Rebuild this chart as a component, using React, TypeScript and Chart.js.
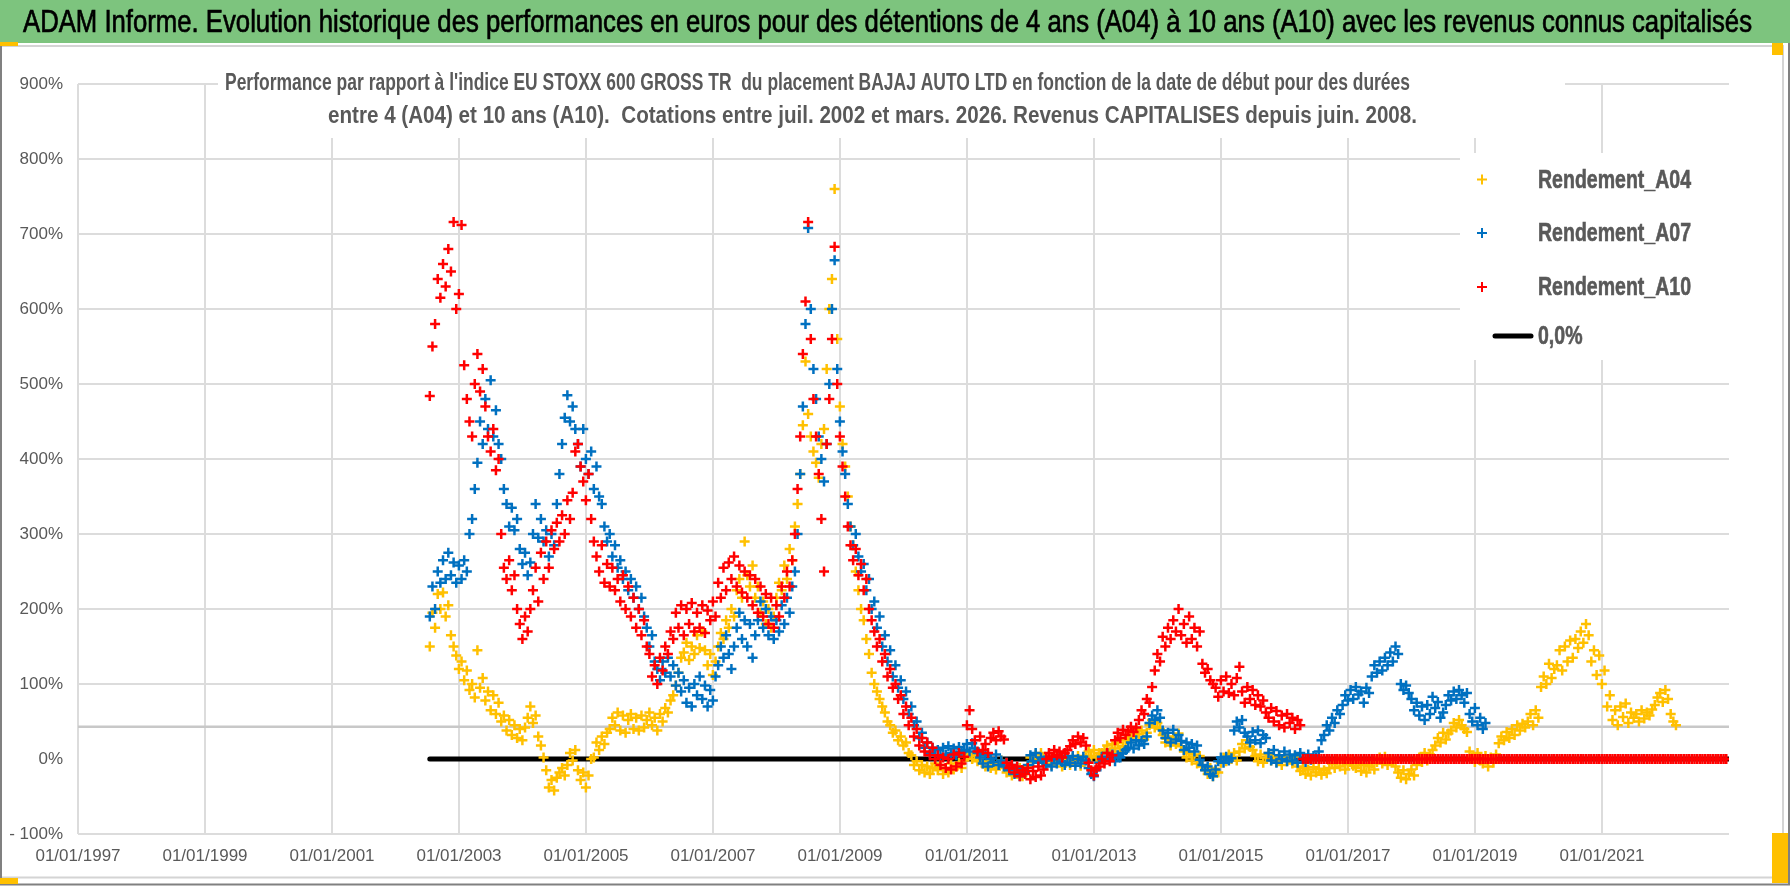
import { useEffect, useRef } from "react"
import { Chart, registerables } from "chart.js"

Chart.register(...registerables)

// start dates: one value every half month, from july 2002
const startYear = 2002.54
const stepYears = 1 / 24

const seriesNames = ["Rendement_A04", "Rendement_A07", "Rendement_A10", "0,0%"]

// Rendement_A04 (%), one row = one year of start dates
const a04 = [
  150, 195, 175, 220, 200, 222, 190, 205, 165, 150, 138, 120, 130, 105, 118, 92, 100, 82, 145, 95, 108, 78, 90, 65,
  85, 60, 75, 50, 58, 38, 52, 32, 45, 28, 40, 25, 42, 55, 70, 48, 58, 30, 18, 2, -15, -38, -28, -42,
  -25, -18, -12, -22, -8, 8, -2, 12, -15, -28, -18, -38, -22, 0, 2, 22, 12, 30, 20, 35, 40, 55, 45, 62,
  38, 58, 35, 52, 60, 40, 55, 38, 58, 42, 52, 62, 45, 55, 38, 60, 50, 68, 62, 78, 85, 98, 115, 135,
  142, 155, 132, 150, 140, 165, 148, 170, 145, 125, 140, 112, 130, 150, 168, 160, 185, 175, 200, 190, 225, 240, 215, 290,
  245, 230, 258, 215, 230, 195, 210, 180, 200, 175, 190, 215, 235, 225, 258, 240, 280, 265, 310, 340, 380, 445, 530, 460,
  430, 410, 395, 375, 420, 440, 520, 600, 640, 760, 560, 470, 420, 390, 350, 310, 285, 250, 225, 200, 185, 160, 140, 115,
  100, 90, 80, 70, 62, 50, 45, 35, 38, 25, 30, 18, 22, 8, 5, -8, -3, -15, -8, -18, -10, -20, -12, -6,
  -15, -8, -20, -12, -18, -6, -14, -10, -5, -12, -2, 5, 8, 0, 4, -3, 2, -6, -10, -3, -12, -5, -14, -8,
  -2, -12, -18, -10, -22, -14, -20, -12, -23, -16, -10, 2, -4, 6, -2, 8, 0, -6, 3, -8, 2, -4, 4, -10,
  -3, 3, -8, 1, -5, 4, -9, 0, 2, 10, 4, 12, 2, 8, 8, 12, 18, 9, 20, 14, 21, 10, 17, 25,
  28, 36, 30, 40, 33, 38, 26, 35, 45, 52, 42, 48, 40, 32, 22, 30, 18, 28, 20, 34, 17, 10, 2, 8,
  -2, 6, -6, 4, -10, -14, -20, -12, -23, -16, -18, -5, 2, -3, 6, 0, 8, -2, 10, 20, 14, 25, 16, 12,
  4, -3, 6, -5, 2, 8, -2, 5, -4, 2, -8, 4, -3, 0, -6, 3, -10, -16, -12, -20, -14, -22, -11, -18,
  -13, -21, -15, -19, -12, -6, -12, -2, -10, -4, -14, -7, -1, -9, -12, -5, -16, -8, -18, -10, -6, -14, -4, 2,
  -6, 3, -8, 0, -4, -10, -18, -25, -15, -27, -20, -14, -22, -8, 2, -4, 8, -2, 6, 12, 18, 28, 22, 35,
  26, 34, 38, 48, 42, 52, 45, 40, 36, 10, 2, -4, 8, -2, -6, 4, -10, 2, -5, 6, 21, 30, 25, 36,
  28, 40, 32, 45, 38, 47, 42, 50, 60, 45, 65, 55, 96, 110, 100, 127, 108, 120, 125, 145, 118, 150, 130, 158,
  135, 160, 148, 170, 155, 180, 165, 130, 145, 112, 138, 100, 118, 70, 85, 52, 65, 45, 70, 56, 74, 48, 62, 55,
  60, 50, 65, 54, 62, 58, 66, 72, 82, 88, 76, 92, 80, 60, 50, 45,
]

// Rendement_A07 (%)
const a07 = [
  190, 230, 200, 250, 235, 265, 240, 275, 245, 262, 235, 258, 240, 265, 250, 300, 320, 360, 395, 450, 420, 480, 440, 505,
  430, 465, 420, 400, 360, 340, 310, 335, 305, 320, 280, 260, 275, 245, 262, 300, 340, 295, 320, 290, 305, 270, 300, 285,
  340, 380, 420, 455, 485, 450, 470, 440, 420, 390, 440, 400, 380, 410, 360, 390, 350, 340, 310, 290, 300, 270, 285, 255,
  265, 240, 250, 225, 240, 215, 230, 200, 215, 190, 175, 150, 165, 130, 120, 105, 130, 115, 135, 110, 125, 98, 115, 90,
  105, 75, 95, 70, 100, 85, 110, 80, 98, 70, 92, 78, 110, 125, 150, 135, 165, 140, 120, 150, 175, 195, 160, 185,
  150, 180, 135, 165, 185, 210, 175, 200, 165, 190, 160, 185, 170, 205, 180, 215, 195, 230, 250, 300, 380, 470, 580, 708,
  600, 520, 480, 430, 400, 370, 420, 500, 600, 665, 520, 450, 410, 380, 340, 310, 285, 300, 270, 250, 260, 225, 240, 200,
  210, 175, 190, 150, 165, 130, 145, 110, 125, 95, 105, 80, 90, 60, 70, 45, 50, 28, 35, 15, 22, 8, 15, 5,
  12, 4, 15, 6, 17, 8, 14, 5, 16, 9, 12, 20, 10, 21, 14, 8, 2, -6, 5, -10, 0, -4, 6, -8,
  -2, -10, -5, -15, -8, -20, -12, -23, -15, -18, -8, 5, -3, 8, -5, 2, -2, -8, 3, -10, 0, -6, 4, -4,
  -8, 2, -5, 4, -9, 0, -6, 3, -2, -12, -20, -23, -15, -5, 3, -2, 8, 0, 6, -3, 5, 2, 8, 12,
  15, 22, 14, 25, 18, 24, 20, 30, 48, 58, 52, 65, 55, 38, 28, 35, 22, 39, 26, 32, 24, 12, 22, 15,
  20, 10, 18, -1, -8, -15, -10, -20, -23, -14, -3, 2, -5, 3, -2, 1, 38, 50, 42, 52, 35, 30, 22, 36,
  25, 38, 21, 32, 28, 8, -2, 12, -5, 5, 0, 10, -3, 6, -2, 5, -5, 8, 0, -4, 6, -1, 4, 2,
  10, 25, 32, 45, 38, 55, 48, 65, 60, 72, 85, 78, 92, 80, 96, 86, 90, 75, 95, 88, 110, 125, 115, 130,
  118, 135, 125, 142, 130, 150, 140, 100, 92, 98, 88, 80, 65, 75, 58, 70, 52, 72, 60, 83, 68, 76, 55, 62,
  72, 85, 78, 90, 80, 92, 85, 75, 88, 60, 50, 68, 45, 55, 40, 48,
]

// Rendement_A10 (%), 0 after june 2016
const a10 = [
  484, 550, 580, 640, 615, 660, 630, 680, 650, 716, 600, 620, 712, 525, 480, 450, 430, 500, 540, 490, 520, 470, 430, 410,
  440, 385, 400, 300, 255, 240, 265, 225, 245, 200, 180, 160, 190, 170, 200, 225, 255, 210, 275, 240, 290, 255, 305, 280,
  315, 290, 325, 300, 345, 320, 355, 410, 420, 390, 370, 345, 380, 320, 290, 270, 250, 285, 235, 260, 230, 255, 225, 240,
  210, 245, 200, 230, 190, 215, 175, 200, 165, 185, 150, 140, 110, 125, 100, 135, 118, 150, 140, 170, 160, 195, 175, 205,
  165, 200, 180, 208, 170, 195, 175, 205, 168, 198, 185, 210, 190, 235, 215, 255, 225, 262, 240, 270, 230, 258, 222, 250,
  215, 245, 205, 240, 195, 230, 190, 220, 180, 215, 175, 205, 190, 230, 215, 250, 230, 265, 300, 360, 430, 540, 610, 716,
  560, 480, 430, 380, 320, 250, 420, 480, 560, 683, 500, 430, 390, 350, 310, 285, 265, 280, 245, 260, 225, 240, 200, 185,
  170, 150, 160, 130, 140, 110, 120, 95, 100, 80, 85, 60, 70, 45, 55, 30, 40, 18, 28, 10, 22, 5, 15, 0,
  5, -8, 2, -12, 0, -14, 6, -10, 8, -6, 3, 45, 65, 40, 25, 10, 30, 12, 20, 8, 28, 35, 25, 37,
  30, 26, -5, -12, -8, -18, -10, -23, -15, -20, -12, -27, -16, -24, -10, -22, -14, 0, 8, 3, 12, 5, 10, 2,
  8, 12, 17, 25, 20, 30, 22, 28, 18, -5, -15, -22, -12, -10, 0, -6, 8, -3, 5, 25, 35, 28, 39, 32,
  38, 43, 36, 42, 52, 65, 60, 80, 75, 96, 118, 140, 130, 163, 150, 175, 160, 185, 170, 200, 165, 180, 155, 190,
  160, 175, 150, 170, 127, 115, 120, 105, 100, 95, 83, 105, 90, 110, 88, 100, 85, 108, 123, 90, 75, 96, 80, 92,
  72, 85, 70, 78, 62, 55, 68, 50, 64, 45, 58, 42, 60, 48, 55, 40, 52, 45, 0, 0, 0, 0, 0, 0,
  0, 0, 0, 0, 0, 0, 0, 0, 0, 0, 0, 0, 0, 0, 0, 0, 0, 0, 0, 0, 0, 0, 0, 0,
  0, 0, 0, 0, 0, 0, 0, 0, 0, 0, 0, 0, 0, 0, 0, 0, 0, 0, 0, 0, 0, 0, 0, 0,
  0, 0, 0, 0, 0, 0, 0, 0, 0, 0, 0, 0, 0, 0, 0, 0, 0, 0, 0, 0, 0, 0, 0, 0,
  0, 0, 0, 0, 0, 0, 0, 0, 0, 0, 0, 0, 0, 0, 0, 0, 0, 0, 0, 0, 0, 0, 0, 0,
  0, 0, 0, 0, 0, 0, 0, 0, 0, 0, 0, 0, 0, 0, 0, 0, 0, 0, 0, 0, 0, 0, 0, 0,
  0, 0, 0, 0, 0, 0, 0, 0, 0, 0, 0, 0, 0, 0, 0, 0, 0, 0, 0, 0, 0, 0, 0, 0,
  0, 0, 0, 0, 0, 0, 0, 0, 0, 0, 0,
]

// 0,0% line and the grey horizontal axis line
const zeroLineX = [2002.54, 2023]
const zeroLineY = [0, 0]
const axisLineX = [1997, 2023]
const axisLineY = [43, 43]

const xTicks = [1997, 1999, 2001, 2003, 2005, 2007, 2009, 2011, 2013, 2015, 2017, 2019, 2021]
const yTicks = [-100, 0, 100, 200, 300, 400, 500, 600, 700, 800, 900]

const title =
  "ADAM Informe. Evolution historique des performances en euros pour des détentions de 4 ans (A04) à 10 ans (A10) avec les revenus connus capitalisés"
const subtitleLines = [
  "Performance par rapport à l'indice EU STOXX 600 GROSS TR  du placement BAJAJ AUTO LTD en fonction de la date de début pour des durées",
  "entre 4 (A04) et 10 ans (A10).  Cotations entre juil. 2002 et mars. 2026. Revenus CAPITALISES depuis juin. 2008.",
]

const colors = ["#FFC000", "#0070C0", "#FF0000", "#000000"]
const sans = "'Liberation Sans', Arial, sans-serif"
const textGrey = "#595959"

const toPoints = (values: number[]) => values.map((y, i) => ({ x: startYear + i * stepYears, y }))
const pairPoints = (xs: number[], ys: number[]) => xs.map((x, i) => ({ x, y: ys[i] }))

// draws text squeezed horizontally to look like the narrow font of the original
function squeezed(ctx: CanvasRenderingContext2D, text: string, x: number, y: number, sx: number, heft = 0) {
  ctx.save()
  ctx.translate(x, y)
  ctx.scale(sx, 1)
  ctx.fillText(text, 0, 0)
  if (heft > 0) {
    ctx.lineWidth = heft
    ctx.strokeStyle = ctx.fillStyle
    ctx.strokeText(text, 0, 0)
  }
  ctx.restore()
}

function squeezeFor(ctx: CanvasRenderingContext2D, text: string, width: number) {
  return width / ctx.measureText(text).width
}

const decor = {
  id: "decor",
  beforeDraw(chart: Chart) {
    const { ctx, width, height } = chart
    ctx.save()
    ctx.fillStyle = "#ffffff"
    ctx.fillRect(0, 0, width, height)
    ctx.fillStyle = "#7dc47e"
    ctx.fillRect(0, 0, width, 43)

    // frame
    ctx.strokeStyle = "#d4d4d4"
    ctx.lineWidth = 2
    ctx.beginPath()
    ctx.moveTo(0, 46)
    ctx.lineTo(1783, 46)
    ctx.lineTo(1783, 877.5)
    ctx.lineTo(0, 877.5)
    ctx.stroke()
    ctx.strokeStyle = "#808080"
    ctx.beginPath()
    ctx.moveTo(1, 43)
    ctx.lineTo(1, 884.5)
    ctx.lineTo(1789, 884.5)
    ctx.lineTo(1789, 43)
    ctx.stroke()
    ctx.fillStyle = "#FFC000"
    ctx.fillRect(0, 42, 18, 4)
    ctx.fillRect(1772, 43, 11, 12)
    ctx.fillRect(0, 878, 18, 6)
    ctx.fillRect(1772, 833, 16, 50)

    // title
    ctx.font = `normal 32px ${sans}`
    ctx.fillStyle = "#000000"
    ctx.textAlign = "left"
    ctx.textBaseline = "middle"
    squeezed(ctx, title, 23, 23, squeezeFor(ctx, title, 1729), 0.7)
    ctx.restore()
  },
  beforeDatasetsDraw(chart: Chart) {
    const { ctx } = chart
    ctx.save()
    ctx.fillStyle = "#ffffff"
    ctx.fillRect(218, 55, 1347, 83)
    ctx.fillRect(1460, 153, 275, 207)

    // subtitle
    ctx.font = `bold 23px ${sans}`
    ctx.fillStyle = textGrey
    ctx.textAlign = "left"
    ctx.textBaseline = "middle"
    squeezed(ctx, subtitleLines[0], 225, 84, squeezeFor(ctx, subtitleLines[0], 1185))
    squeezed(ctx, subtitleLines[1], 328, 117, squeezeFor(ctx, subtitleLines[1], 1089))

    // legend
    const rows = [179.5, 233, 287, 336]
    ctx.font = `bold 26px ${sans}`
    const sx = squeezeFor(ctx, seriesNames[0], 153)
    seriesNames.forEach((name, i) => {
      const y = rows[i]
      ctx.strokeStyle = colors[i]
      if (i < 3) {
        ctx.lineWidth = 2
        ctx.beginPath()
        ctx.moveTo(1477, y)
        ctx.lineTo(1487, y)
        ctx.moveTo(1482, y - 5)
        ctx.lineTo(1482, y + 5)
        ctx.stroke()
      } else {
        ctx.lineWidth = 5
        ctx.lineCap = "round"
        ctx.beginPath()
        ctx.moveTo(1495, y)
        ctx.lineTo(1531, y)
        ctx.stroke()
      }
      ctx.fillStyle = textGrey
      squeezed(ctx, name, 1538, y + 1, sx, 0.6)
    })
    ctx.restore()
  },
}

export default function App() {
  const canvasRef = useRef<HTMLCanvasElement>(null)
  const chartRef = useRef<Chart | null>(null)

  useEffect(() => {
    document.body.style.margin = "0"
    if (!canvasRef.current) return
    if (chartRef.current) chartRef.current.destroy()

    const scatter = (label: string, values: number[], color: string) => ({
      label,
      data: toPoints(values),
      showLine: false,
      borderColor: color,
      backgroundColor: color,
      pointStyle: "cross" as const,
      pointRadius: 5,
      pointBorderWidth: 2.5,
    })

    chartRef.current = new Chart(canvasRef.current, {
      type: "scatter",
      data: {
        datasets: [
          scatter(seriesNames[2], a10, colors[2]),
          scatter(seriesNames[1], a07, colors[1]),
          scatter(seriesNames[0], a04, colors[0]),
          {
            label: seriesNames[3],
            data: pairPoints(zeroLineX, zeroLineY),
            showLine: true,
            borderColor: "#000000",
            borderWidth: 5,
            borderCapStyle: "round",
            pointRadius: 0,
          },
          {
            label: "axe",
            data: pairPoints(axisLineX, axisLineY),
            showLine: true,
            borderColor: "#c8c8c8",
            borderWidth: 2.5,
            pointRadius: 0,
          },
        ],
      },
      options: {
        animation: false,
        responsive: false,
        devicePixelRatio: 1,
        events: [],
        layout: { padding: { left: 0, top: 84, right: 61, bottom: 0 } },
        plugins: {
          legend: { display: false },
          tooltip: { enabled: false },
        },
        scales: {
          x: {
            type: "linear",
            min: 1997,
            max: 2023,
            afterBuildTicks: (scale) => {
              scale.ticks = xTicks.map((value) => ({ value }))
            },
            afterFit: (scale) => {
              scale.height = 52
            },
            border: { display: false },
            grid: { color: "#dcdcdc", lineWidth: 2, drawTicks: false },
            ticks: {
              autoSkip: false,
              maxRotation: 0,
              padding: 12,
              color: textGrey,
              font: { family: sans, size: 17 },
              callback: (value) => `01/01/${value}`,
            },
          },
          y: {
            min: -100,
            max: 900,
            afterBuildTicks: (scale) => {
              scale.ticks = yTicks.map((value) => ({ value }))
            },
            afterFit: (scale) => {
              scale.width = 78
            },
            border: { display: false },
            grid: {
              color: (c) => (c.tick && c.tick.value === 0 ? "rgba(0,0,0,0)" : "#dcdcdc"),
              lineWidth: 2,
              drawTicks: false,
            },
            ticks: {
              padding: 15,
              color: textGrey,
              font: { family: sans, size: 17 },
              callback: (value) => (Number(value) < 0 ? `- ${Math.abs(Number(value))}%` : `${value}%`),
            },
          },
        },
      },
      plugins: [decor],
    })

    return () => {
      if (chartRef.current) {
        chartRef.current.destroy()
        chartRef.current = null
      }
    }
  }, [])

  return (
    <div style={{ width: 1790, height: 886 }}>
      <canvas ref={canvasRef} width={1790} height={886} />
    </div>
  )
}
